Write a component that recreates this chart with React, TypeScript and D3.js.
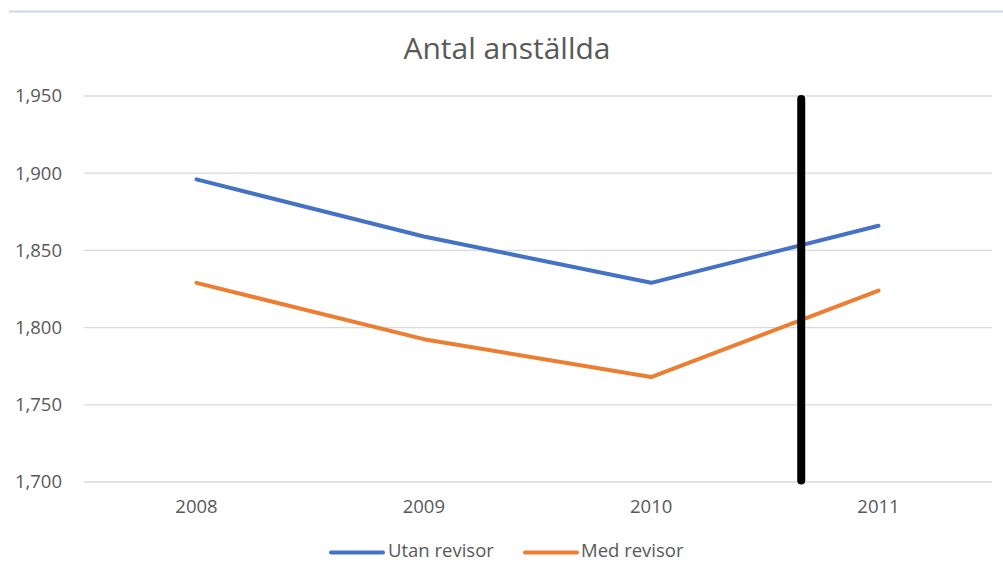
import React from "react";
import * as d3 from "d3";

// Employee headcount per year, with and without an auditor
const years = [2008, 2009, 2010, 2011];
const utanRevisor = [1896, 1859, 1829, 1866];
const medRevisor = [1829, 1792.5, 1768, 1824];
const yTicks = [1700, 1750, 1800, 1850, 1900, 1950];
const seriesNames = ["Utan revisor", "Med revisor"];
const seriesColors = ["#4472C4", "#ED7D31"];
const title = "Antal anställda";

// Vertical marker drawn between 2010 and 2011
const markerYear = 2010.66;
const markerFrom = 1948;
const markerTo = 1701;

const W = 1003;
const H = 563;
const FONT = "'Open Sans', sans-serif";
const TEXT = "#595959";

export default function App() {
  const x = d3.scaleLinear().domain([2007.5, 2011.5]).range([82.8, 992.2]);
  const y = d3.scaleLinear().domain([1700, 1950]).range([482, 96]);
  const fmt = d3.format(",");

  const line = d3
    .line<[number, number]>()
    .x((d) => x(d[0]))
    .y((d) => y(d[1]));

  const series = [utanRevisor, medRevisor].map((vals, i) => ({
    name: seriesNames[i],
    color: seriesColors[i],
    path: line(years.map((yr, j) => [yr, vals[j]] as [number, number])) || "",
  }));

  const legendItems = [
    { lineX: 331, textX: 388 },
    { lineX: 525, textX: 581 },
  ];
  const legendY = 552.5;

  return (
    <svg
      width={W}
      height={H}
      style={{ position: "absolute", left: 0, top: 0, background: "#fff" }}
      fontFamily={FONT}
    >
      <rect x={0} y={0} width={W} height={H} fill="#fff" />
      <line x1={9} x2={W} y1={11.5} y2={11.5} stroke="#cdd5e6" strokeWidth={2} />

      <text x={507} y={59} textAnchor="middle" fontSize={30} fill={TEXT}>
        {title}
      </text>

      {/* horizontal gridlines and value labels */}
      {yTicks.map((t) => (
        <g key={t}>
          <line x1={84} x2={992} y1={y(t)} y2={y(t)} stroke="#d9d9d9" strokeWidth={1.3} />
          <text
            x={62}
            y={y(t)}
            dy="0.35em"
            textAnchor="end"
            fontSize={18.5}
            fill={TEXT}
          >
            {fmt(t)}
          </text>
        </g>
      ))}

      {/* category labels */}
      {years.map((yr) => (
        <text key={yr} x={x(yr)} y={513} textAnchor="middle" fontSize={18.5} fill={TEXT}>
          {yr}
        </text>
      ))}

      {series.map((s) => (
        <path
          key={s.name}
          d={s.path}
          fill="none"
          stroke={s.color}
          strokeWidth={4}
          strokeLinejoin="round"
          strokeLinecap="round"
        />
      ))}

      <line
        x1={x(markerYear)}
        x2={x(markerYear)}
        y1={y(markerFrom)}
        y2={y(markerTo)}
        stroke="#000"
        strokeWidth={8}
        strokeLinecap="round"
      />

      {/* legend */}
      {series.map((s, i) => (
        <g key={s.name}>
          <line
            x1={legendItems[i].lineX}
            x2={legendItems[i].lineX + 52}
            y1={legendY}
            y2={legendY}
            stroke={s.color}
            strokeWidth={4}
            strokeLinecap="round"
          />
          <text x={legendItems[i].textX} y={legendY - 1.5} dy="0.35em" fontSize={18.5} fill={TEXT}>
            {s.name}
          </text>
        </g>
      ))}
    </svg>
  );
}
